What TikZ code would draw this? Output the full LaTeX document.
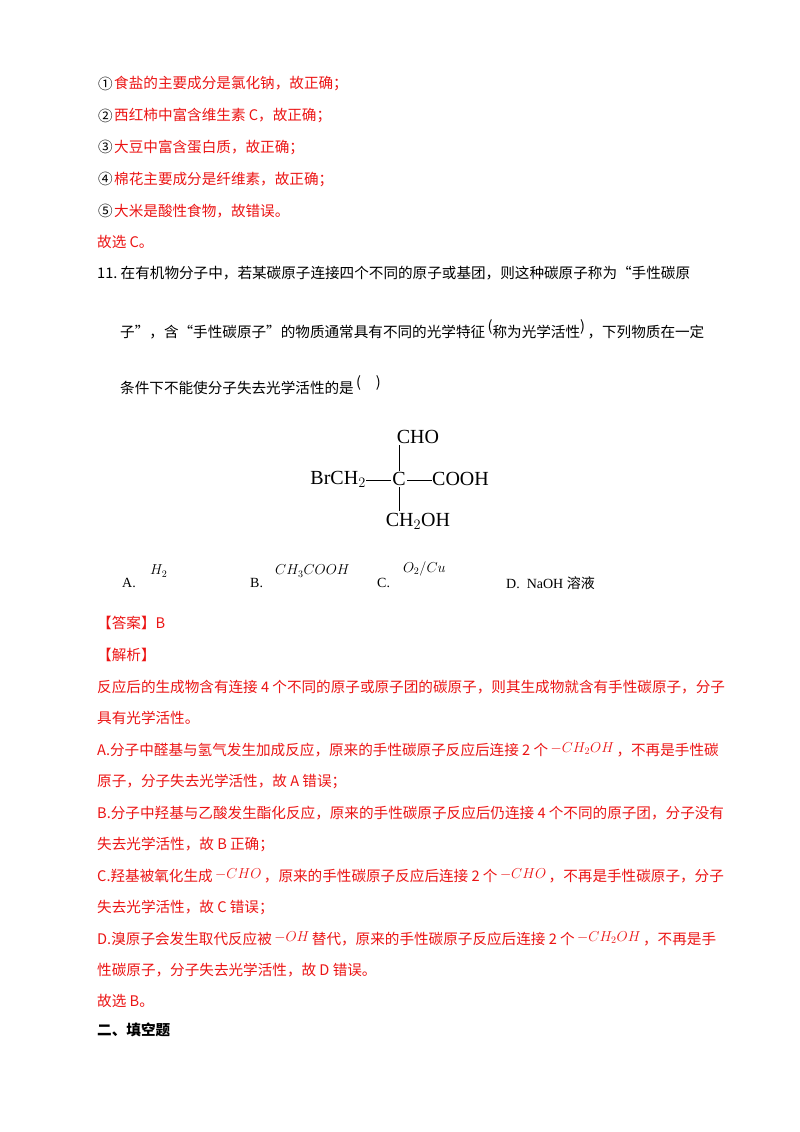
\documentclass[tikz,border=0pt]{standalone}
\usepackage{fontspec}
\setmainfont{Liberation Serif}
\newfontfamily\cjk{Noto Sans CJK SC}
\usetikzlibrary{positioning}
\definecolor{ansred}{RGB}{235,20,20}
\tikzset{
  txt/.style={anchor=west,inner sep=0pt,font=\fontsize{14.6}{16}\selectfont\cjk},
  red txt/.style={txt,text=ansred},
  chem/.style={inner sep=1.5pt,font=\fontsize{20}{22}\selectfont},
  bond/.style={line width=0.8pt},
  opt/.style={anchor=west,inner sep=0pt,font=\fontsize{14}{16}\selectfont},
  sup/.style={anchor=west,inner sep=0pt,font=\fontsize{14}{16}\selectfont}
}
\begin{document}
\begin{tikzpicture}[x=1pt,y=-1pt]
  \useasboundingbox (0,0) rectangle (800,1132);
  %
  \foreach \mark/\txt [count=\i] in {①/食盐的主要成分是氯化钠，故正确；,
      ②/西红柿中富含维生素 C，故正确；,
      ③/大豆中富含蛋白质，故正确；,
      ④/棉花主要成分是纤维素，故正确；,
      ⑤/大米是酸性食物，故错误。} {
    \node[txt] (num\i) at (98,52+31.8*\i) {\mark};
    \node[red txt,right=1pt of num\i] (item\i) {\txt};
  }
  \node[red txt] (pick1) at (97,242) {故选 C。};

  % question
  \node[txt] (q1) at (97,273) {11.\ 在有机物分子中，若某碳原子连接四个不同的原子或基团，则这种碳原子称为“手性碳原};
  \node[txt] (q2) at (120,329) {子”，含“手性碳原子”的物质通常具有不同的光学特征\,\raisebox{6pt}{(}称为光学活性\raisebox{6pt}{)}\,，下列物质在一定};
  \node[txt] (q3) at (120,385) {条件下不能使分子失去光学活性的是\,\raisebox{6pt}{(\quad)}};

  % structure
  \node[chem] (c) at (399,479) {C};
  \node[chem] (cho) at (418,437) {CHO};
  \node[chem] (ch2oh) at (418,521) {CH$_2$OH};
  \node[chem,anchor=east,inner sep=0pt] (br) at (366,479) {BrCH$_2$};
  \node[chem,anchor=west,inner sep=0pt] (cooh) at (432,479) {COOH};
  \draw[bond] ([yshift=-1pt]br.east) -- ([yshift=-1pt]c.west);
  \draw[bond] ([yshift=-1pt]c.east) -- ([yshift=-1pt]cooh.west);
  \draw[bond] (c.north) -- (c.north |- cho.south);
  \draw[bond] (c.south) -- (c.south |- ch2oh.north);

  % options
  \node[opt] (oa) at (122,583) {A.};
  \node[sup] (ha) at (150,571) {$H_2$};
  \node[opt] (ob) at (250,583) {B.};
  \node[sup] (hb) at (275,571) {$CH_3COOH$};
  \node[opt] (oc) at (377,583) {C.};
  \node[sup] (hc) at (403,569) {$O_2/Cu$};
  \node[opt] (od) at (506,583) {D.\ \ NaOH {\cjk 溶液}};

  % answer
  \node[red txt] (ans) at (97,623) {【答案】B};
  \node[red txt] (anl) at (97,655) {【解析】};
  \node[red txt] (l1) at (97,687) {反应后的生成物含有连接 4 个不同的原子或原子团的碳原子，则其生成物就含有手性碳原子，分子};
  \node[red txt] (l2) at (97,718) {具有光学活性。};
  \node[red txt] (l3) at (97,750) {A.分子中醛基与氢气发生加成反应，原来的手性碳原子反应后连接 2 个\,\raisebox{3pt}{$-CH_2OH$}\,，不再是手性碳};
  \node[red txt] (l4) at (97,781) {原子，分子失去光学活性，故 A 错误；};
  \node[red txt] (l5) at (97,813) {B.分子中羟基与乙酸发生酯化反应，原来的手性碳原子反应后仍连接 4 个不同的原子团，分子没有};
  \node[red txt] (l6) at (97,844) {失去光学活性，故 B 正确；};
  \node[red txt] (l7) at (97,876) {C.羟基被氧化生成\,\raisebox{3pt}{$-CHO$}\,，原来的手性碳原子反应后连接 2 个\,\raisebox{3pt}{$-CHO$}\,，不再是手性碳原子，分子};
  \node[red txt] (l8) at (97,907) {失去光学活性，故 C 错误；};
  \node[red txt] (l9) at (97,939) {D.溴原子会发生取代反应被\,\raisebox{3pt}{$-OH$}\,替代，原来的手性碳原子反应后连接 2 个\,\raisebox{3pt}{$-CH_2OH$}\,，不再是手};
  \node[red txt] (l10) at (97,970) {性碳原子，分子失去光学活性，故 D 错误。};
  \node[red txt] (pick2) at (97,1001) {故选 B。};
  \node[txt,font=\fontsize{14.6}{16}\selectfont\cjk\bfseries] (sec) at (97,1030) {二、填空题};
\end{tikzpicture}
\end{document}
